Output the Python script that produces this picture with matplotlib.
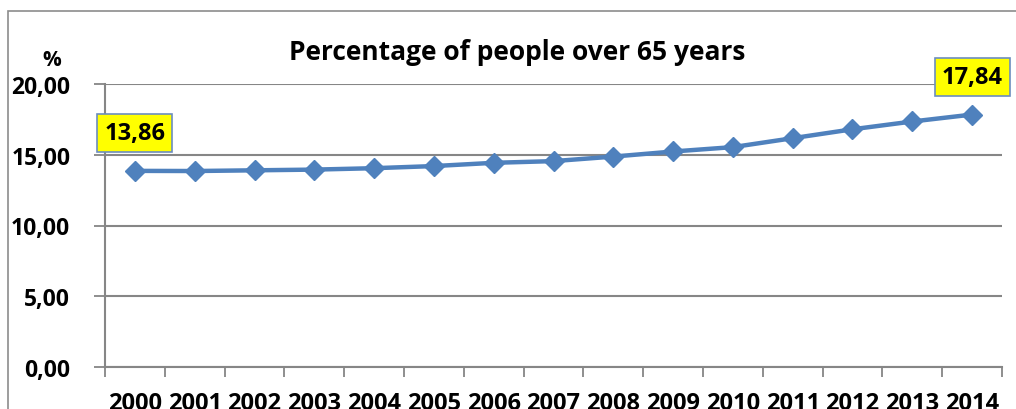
import matplotlib
matplotlib.use("Agg")
import matplotlib.pyplot as plt
from matplotlib.patches import Rectangle
import numpy as np

years = ["2000", "2001", "2002", "2003", "2004", "2005", "2006", "2007",
         "2008", "2009", "2010", "2011", "2012", "2013", "2014"]
values = [13.86, 13.85, 13.90, 13.95, 14.05, 14.20, 14.43, 14.55,
          14.87, 15.23, 15.54, 16.17, 16.80, 17.35, 17.84]
y_ticks = [0, 5, 10, 15, 20]
y_tick_labels = ["0,00", "5,00", "10,00", "15,00", "20,00"]
labelled = {0: "13,86", 14: "17,84"}
title = "Percentage of people over 65 years"

plt.rcParams['font.family'] = ['Open Sans', 'DejaVu Sans']
plt.rcParams['font.weight'] = 'bold'

fig = plt.figure(figsize=(10.16, 4.10), dpi=100)
fig.patches.append(Rectangle((8/1016, -0.2), 1.2, 0.2 + 1 - 12/410,
                             transform=fig.transFigure, fill=False,
                             edgecolor='#8c8c8c', linewidth=1.2))
ax = fig.add_axes([105/1016, 42/410, 897/1016, 283/410])

x = np.arange(len(years))
ax.plot(x, values, color='#4F81BD', linewidth=3.2, marker='D',
        markersize=10, markerfacecolor='#4F81BD', markeredgecolor='#4F81BD',
        zorder=3, clip_on=False)

ax.set_xlim(-0.5, len(years) - 0.5)
ax.set_ylim(0, 20)
ax.set_yticks(y_ticks)
ax.set_yticklabels(y_tick_labels)
ax.yaxis.grid(True, color='#868686', linewidth=1.5)
ax.set_axisbelow(True)

ax.set_xticks(np.arange(-0.5, len(years)), minor=False)
ax.set_xticklabels([])
ax.set_xticks(x, minor=True)
ax.set_xticklabels(years, minor=True)
ax.tick_params(axis='x', which='major', length=7, width=1.3, color='#868686', direction='out')
ax.tick_params(axis='x', which='minor', length=0, pad=17, labelsize=17)
ax.tick_params(axis='y', length=8, width=1.3, color='#868686', pad=17, labelsize=16.5)
for lab in ax.get_xticklabels(minor=True) + ax.get_yticklabels():
    lab.set_fontweight('bold')

for s in ['top', 'right']:
    ax.spines[s].set_visible(False)
for s in ['left', 'bottom']:
    ax.spines[s].set_color('#868686')
    ax.spines[s].set_linewidth(1.5)

for i, txt in labelled.items():
    ax.annotate(txt, (x[i], values[i]), xytext=(0, 27), textcoords='offset points',
                ha='center', va='center', fontsize=17, fontweight='bold',
                bbox=dict(boxstyle='square,pad=0.3', facecolor='#FFFF00',
                          edgecolor='#6C8EBF', linewidth=1.2), zorder=5)

fig.text(517/1016, 1 - 53/410, title, ha='center', va='center',
         fontsize=19, fontweight='bold')
fig.text(52/1016, 1 - 60/410, "%", ha='center', va='center',
         fontsize=15, fontweight='bold')

fig.savefig("out.png", dpi=100)
